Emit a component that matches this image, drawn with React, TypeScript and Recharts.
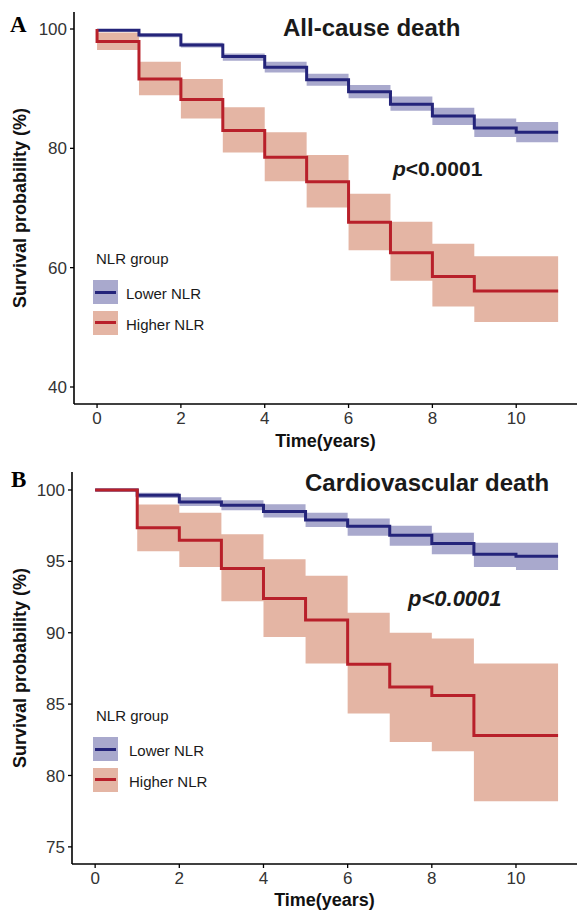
import React from 'react'
import { ComposedChart, Area, Line, XAxis, YAxis, Legend } from 'recharts'

const FONT = '"Liberation Sans", Arial, Helvetica, sans-serif'
const LOWER_LINE = '#24247a'
const LOWER_FILL = '#a9a9cd'
const HIGHER_LINE = '#b8202a'
const HIGHER_FILL = '#e4b5a4'

const times = [0, 1, 2, 3, 4, 5, 6, 7, 8, 9, 10, 11]
const xTicks = [0, 2, 4, 6, 8, 10]

// A: all-cause death
const allTicks = [40, 60, 80, 100]
const lowerAll = [99.8, 99.0, 97.3, 95.4, 93.6, 91.5, 89.5, 87.4, 85.4, 83.4, 82.7, 82.7]
const lowerAllLo = [99.6, 98.6, 96.9, 94.7, 92.7, 90.5, 88.4, 86.3, 83.9, 81.9, 81.0, 81.0]
const lowerAllHi = [100, 99.3, 97.7, 95.9, 94.5, 92.5, 90.6, 88.7, 86.8, 85.0, 84.4, 84.4]
const higherAllStart = 100
const higherAll = [97.9, 91.6, 88.2, 83.0, 78.5, 74.4, 67.6, 62.5, 58.5, 56.1, 56.1, 56.1]
const higherAllLo = [96.5, 88.9, 85.0, 79.3, 74.5, 70.1, 62.9, 57.8, 53.5, 50.9, 50.9, 50.9]
const higherAllHi = [99.4, 94.5, 91.6, 86.9, 82.7, 78.9, 72.4, 67.7, 64.0, 61.9, 61.9, 61.9]

// B: cardiovascular death
const cvTicks = [75, 80, 85, 90, 95, 100]
const lowerCv = [100, 99.63, 99.16, 98.93, 98.5, 97.9, 97.46, 96.83, 96.25, 95.5, 95.36, 95.36]
const lowerCvLo = [100, 99.44, 98.87, 98.58, 98.07, 97.4, 96.8, 96.1, 95.5, 94.6, 94.4, 94.4]
const lowerCvHi = [100, 99.8, 99.5, 99.28, 99.0, 98.4, 98.0, 97.5, 97.0, 96.3, 96.3, 96.3]
const higherCv = [100, 97.35, 96.48, 94.5, 92.4, 90.9, 87.8, 86.2, 85.6, 82.8, 82.8, 82.8]
const higherCvLo = [100, 95.7, 94.6, 92.2, 89.7, 87.85, 84.35, 82.35, 81.7, 78.2, 78.2, 78.2]
const higherCvHi = [100, 98.98, 98.4, 96.9, 95.15, 94.0, 91.4, 90.0, 89.6, 87.85, 87.85, 87.85]

const groups = [
  { name: 'Lower NLR', stroke: LOWER_LINE, fill: LOWER_FILL },
  { name: 'Higher NLR', stroke: HIGHER_LINE, fill: HIGHER_FILL },
]

type Row = { t: number; lower: number; lowerBand: number[]; higher: number; higherBand: number[] }

function buildRows(lo: number[], loL: number[], loH: number[], hi: number[], hiL: number[], hiH: number[]): Row[] {
  return times.map((t, i) => ({
    t,
    lower: lo[i],
    lowerBand: [loL[i], loH[i]],
    higher: hi[i],
    higherBand: [hiL[i], hiH[i]],
  }))
}

const allRows = buildRows(lowerAll, lowerAllLo, lowerAllHi, higherAll, higherAllLo, higherAllHi)
allRows.unshift({ ...allRows[0], higher: higherAllStart })
const cvRows = buildRows(lowerCv, lowerCvLo, lowerCvHi, higherCv, higherCvLo, higherCvHi)

const LegendBox = ({ textLeft }: { textLeft: number }) => (
  <div style={{ position: 'relative', width: 160, height: 90, fontFamily: FONT, color: '#1a1a1a' }}>
    <div style={{ position: 'absolute', left: 3, top: 0, fontSize: 15, lineHeight: '17px', whiteSpace: 'nowrap' }}>
      NLR group
    </div>
    {groups.map((g, i) => (
      <React.Fragment key={g.name}>
        <div style={{ position: 'absolute', left: 0, top: 30 + i * 30.5, width: 25, height: 24, background: g.fill }}>
          <div style={{ position: 'absolute', left: 2, right: 2, top: 10.5, height: 3, background: g.stroke }} />
        </div>
        <div
          style={{
            position: 'absolute',
            left: textLeft,
            top: 35 + i * 30.5,
            fontSize: 15,
            lineHeight: '17px',
            whiteSpace: 'nowrap',
          }}
        >
          {g.name}
        </div>
      </React.Fragment>
    ))}
  </div>
)

type PanelProps = {
  rows: Row[]
  yDomain: number[]
  yTicks: number[]
  marginTop: number
  axisHeight: number
  yAxisWidth: number
  xLabelOffset: number
  legendTop: number
  legendTextLeft: number
}

const tickStyle = { fontSize: 17, fill: '#333', fontFamily: FONT }
const axisTitle = { fontSize: 18, fontWeight: 'bold', fill: '#111', fontFamily: FONT }

const KMPanel = (p: PanelProps) => (
  <ComposedChart width={577} height={455} data={p.rows} margin={{ top: p.marginTop, right: 0, bottom: 0, left: 0 }}>
    <XAxis
      type="number"
      dataKey="t"
      domain={[-0.55, 11.45]}
      ticks={xTicks}
      allowDataOverflow
      height={p.axisHeight}
      tick={tickStyle}
      tickSize={4}
      tickMargin={4}
      axisLine={{ stroke: '#000', strokeWidth: 1.6 }}
      tickLine={{ stroke: '#000', strokeWidth: 1.3 }}
      label={{ value: 'Time(years)', position: 'insideBottom', offset: p.xLabelOffset, style: axisTitle }}
    />
    <YAxis
      type="number"
      domain={p.yDomain}
      ticks={p.yTicks}
      allowDataOverflow
      width={p.yAxisWidth}
      tick={tickStyle}
      tickSize={4}
      tickMargin={3}
      axisLine={{ stroke: '#000', strokeWidth: 1.6 }}
      tickLine={{ stroke: '#000', strokeWidth: 1.3 }}
      label={{
        value: 'Survival probability (%)',
        angle: -90,
        position: 'insideLeft',
        offset: 20,
        style: { ...axisTitle, textAnchor: 'middle' },
      }}
    />
    <Area type="stepAfter" dataKey="lowerBand" stroke="none" fill={LOWER_FILL} fillOpacity={1} isAnimationActive={false} />
    <Area type="stepAfter" dataKey="higherBand" stroke="none" fill={HIGHER_FILL} fillOpacity={1} isAnimationActive={false} />
    <Line type="stepAfter" dataKey="lower" stroke={LOWER_LINE} strokeWidth={3} dot={false} isAnimationActive={false} />
    <Line type="stepAfter" dataKey="higher" stroke={HIGHER_LINE} strokeWidth={3} dot={false} isAnimationActive={false} />
    <Legend
      layout="horizontal"
      verticalAlign="middle"
      align="center"
      wrapperStyle={{ left: 93, top: p.legendTop, width: 160, height: 90 }}
      content={() => <LegendBox textLeft={p.legendTextLeft} />}
    />
  </ComposedChart>
)

const abs = (left: number, top: number, extra: React.CSSProperties = {}): React.CSSProperties => ({
  position: 'absolute',
  left,
  top,
  lineHeight: 1,
  whiteSpace: 'nowrap',
  color: '#1a1a1a',
  ...extra,
})

const letterStyle: React.CSSProperties = {
  fontFamily: '"Liberation Serif", "Times New Roman", serif',
  fontWeight: 'bold',
  fontSize: 23,
  color: '#000',
}

export default function App() {
  return (
    <div style={{ position: 'absolute', left: 0, top: 0, width: 577, height: 910, background: '#fff', overflow: 'hidden', fontFamily: FONT }}>
      <div style={{ position: 'absolute', left: 0, top: 0 }}>
        <KMPanel
          rows={allRows}
          yDomain={[37.15, 102.85]}
          yTicks={allTicks}
          marginTop={12}
          axisHeight={51}
          yAxisWidth={74}
          xLabelOffset={8}
          legendTop={250}
          legendTextLeft={33}
        />
      </div>
      <div style={{ position: 'absolute', left: 0, top: 455 }}>
        <KMPanel
          rows={cvRows}
          yDomain={[73.8, 101.26]}
          yTicks={cvTicks}
          marginTop={17}
          axisHeight={46}
          yAxisWidth={72}
          xLabelOffset={4}
          legendTop={252}
          legendTextLeft={36}
        />
      </div>

      <div style={abs(10, 13, letterStyle)}>A</div>
      <div style={abs(11, 468, letterStyle)}>B</div>

      <div style={abs(283, 15.7, { fontWeight: 'bold', fontSize: 24 })}>All-cause death</div>
      <div style={abs(305, 471.4, { fontWeight: 'bold', fontSize: 24 })}>Cardiovascular death</div>

      <div style={abs(393, 158.2, { fontWeight: 'bold', fontSize: 21 })}>
        <i>p</i>&lt;0.0001
      </div>
      <div style={abs(408, 588, { fontWeight: 'bold', fontStyle: 'italic', fontSize: 22 })}>p&lt;0.0001</div>
    </div>
  )
}
